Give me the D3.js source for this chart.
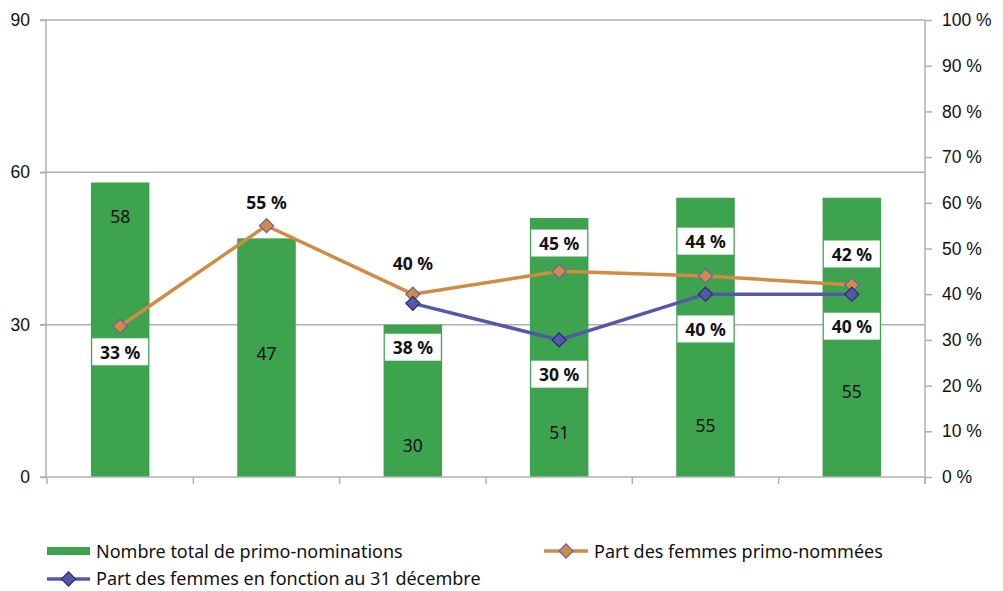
<!DOCTYPE html>
<html><head><meta charset="utf-8">
<script src="https://cdn.jsdelivr.net/npm/d3@7"></script>
<style>
body{margin:0;background:#fff;}
svg{display:block;font-family:"Noto Sans","Open Sans",sans-serif;}
</style></head>
<body><svg id="c" width="1003" height="591"></svg>
<script>
const categories = ["1","2","3","4","5","6"];
const totalNominations = [58, 47, 30, 51, 55, 55];
const partPrimo = [33, 55, 40, 45, 44, 42];
const partFonction = [null, null, 38, 30, 40, 40];
const leftTicks = [0, 30, 60, 90];
const rightTicks = [0,10,20,30,40,50,60,70,80,90,100];
// label anchor positions (in axis units)
const barLabelAt = [51.4, 24.4, 6.3, 8.9, 10.2, 16.9];
const primoLabelAt = [27.4, 60.2, 46.8, 51.2, 51.6, 48.8];
const fonctionLabelAt = [null, null, 28.4, 22.5, 32.4, 33.0];
const primoBox = [true, false, false, true, true, true];

const svg = d3.select("#c");
const FS = 17.5;
const L = 46, R = 925, T = 20, B = 477;
const x = d3.scaleBand().domain(categories).range([L+1, R]).paddingInner(0.6).paddingOuter(0.3);
const yL = d3.scaleLinear().domain([0, 90]).range([B, T]);
const yR = d3.scaleLinear().domain([0, 100]).range([B, T]);
const green = "#3da34e", orange = "#d08c44", blue = "#5558a8", grid = "#b0b0b0";

// grid lines
svg.append("g").selectAll("line").data(leftTicks.filter(d => d > 0)).join("line")
  .attr("x1", 40).attr("x2", R).attr("y1", d => yL(d)).attr("y2", d => yL(d))
  .attr("stroke", grid).attr("stroke-width", 1.5);

// bars
svg.append("g").selectAll("rect").data(totalNominations).join("rect")
  .attr("x", (d,i) => x(categories[i])).attr("width", x.bandwidth())
  .attr("y", d => yL(d)).attr("height", d => B - yL(d)).attr("fill", green);

// left axis
const gl = svg.append("g").attr("transform", `translate(${L},0)`)
  .call(d3.axisLeft(yL).tickValues(leftTicks).tickSize(6).tickPadding(10));
gl.select(".domain").attr("stroke", grid).attr("stroke-width", 1.5).attr("d", `M0,${T}V${B}`);
gl.selectAll(".tick line").attr("stroke", grid).attr("stroke-width", 1.5);
gl.selectAll("text").attr("font-size", FS).attr("fill", "#111");

// right axis
const gr = svg.append("g").attr("transform", `translate(${R},0)`)
  .call(d3.axisRight(yR).tickValues(rightTicks).tickSize(7).tickPadding(10).tickFormat(d => d + " %"));
gr.select(".domain").attr("stroke", grid).attr("stroke-width", 1.5).attr("d", `M0,${T}V${B+7}`);
gr.selectAll(".tick line").attr("stroke", grid).attr("stroke-width", 1.5);
gr.selectAll("text").attr("font-size", FS).attr("fill", "#111");

// bottom axis
const step = x.step();
const bTicks = d3.range(categories.length + 1).map(i => L + 1 + i * step);
svg.append("line").attr("x1", 40).attr("x2", R).attr("y1", B).attr("y2", B)
  .attr("stroke", grid).attr("stroke-width", 1.5);
svg.append("g").selectAll("line").data(bTicks).join("line")
  .attr("x1", d => d).attr("x2", d => d).attr("y1", B).attr("y2", B + 7)
  .attr("stroke", grid).attr("stroke-width", 1.5);

// bar value labels
svg.append("g").selectAll("text").data(totalNominations).join("text")
  .attr("x", (d,i) => x(categories[i]) + x.bandwidth()/2)
  .attr("y", (d,i) => yL(barLabelAt[i]))
  .attr("text-anchor", "middle").attr("dominant-baseline", "central")
  .attr("font-size", FS).attr("fill", "#111").text(d => d);

const cx = i => x(categories[i]) + x.bandwidth()/2;
const line = d3.line().defined(d => d.v != null).x(d => cx(d.i)).y(d => yR(d.v));
const diamond = d3.symbol().type(d3.symbolSquare).size(100);

// orange line
const primoPts = partPrimo.map((v,i) => ({v, i}));
svg.append("path").datum(primoPts).attr("d", line).attr("fill", "none")
  .attr("stroke", orange).attr("stroke-width", 3.5);
// blue line
const fonctionPts = partFonction.map((v,i) => ({v, i}));
svg.append("path").datum(fonctionPts).attr("d", line).attr("fill", "none")
  .attr("stroke", blue).attr("stroke-width", 3.5);

// markers
svg.append("g").selectAll("path").data(primoPts).join("path")
  .attr("d", diamond).attr("transform", d => `translate(${cx(d.i)},${yR(d.v)}) rotate(45)`)
  .attr("fill", orange).attr("stroke", "#6a5fb0").attr("stroke-width", 1.2);
svg.append("g").selectAll("path").data(fonctionPts.filter(d => d.v != null)).join("path")
  .attr("d", diamond).attr("transform", d => `translate(${cx(d.i)},${yR(d.v)}) rotate(45)`)
  .attr("fill", blue).attr("stroke", "#2b2a6e").attr("stroke-width", 1.2);

// percent labels
function pctLabels(vals, at, boxes) {
  const g = svg.append("g");
  vals.forEach((v, i) => {
    if (v == null) return;
    const px = cx(i), py = yR(at[i]);
    if (boxes[i]) {
      g.append("rect").attr("x", px - 28).attr("y", py - 13.5).attr("width", 56).attr("height", 27).attr("fill", "#fff");
    }
    g.append("text").attr("x", px).attr("y", py).attr("text-anchor", "middle")
      .attr("dominant-baseline", "central").attr("font-size", FS).attr("font-weight", "bold")
      .attr("fill", "#111").text(v + " %");
  });
}
pctLabels(partPrimo, primoLabelAt, primoBox);
pctLabels(partFonction, fonctionLabelAt, [true,true,true,true,true,true]);

// legend
const lg = svg.append("g").attr("font-size", FS + 0.5).attr("fill", "#111");
lg.append("rect").attr("x", 47).attr("y", 547).attr("width", 43).attr("height", 8).attr("fill", green);
lg.append("text").attr("x", 96).attr("y", 551).attr("dominant-baseline", "central").text("Nombre total de primo-nominations");
lg.append("line").attr("x1", 544).attr("x2", 588).attr("y1", 551).attr("y2", 551).attr("stroke", orange).attr("stroke-width", 3.5);
lg.append("path").attr("d", diamond).attr("transform", "translate(566,551) rotate(45)")
  .attr("fill", orange).attr("stroke", "#6a5fb0").attr("stroke-width", 1.2);
lg.append("text").attr("x", 594).attr("y", 551).attr("dominant-baseline", "central").text("Part des femmes primo-nommées");
lg.append("line").attr("x1", 47).attr("x2", 90).attr("y1", 579).attr("y2", 579).attr("stroke", blue).attr("stroke-width", 3.5);
lg.append("path").attr("d", diamond).attr("transform", "translate(68.5,579) rotate(45)")
  .attr("fill", blue).attr("stroke", "#2b2a6e").attr("stroke-width", 1.2);
lg.append("text").attr("x", 96).attr("y", 578).attr("dominant-baseline", "central").text("Part des femmes en fonction au 31 décembre");
</script></body></html>
